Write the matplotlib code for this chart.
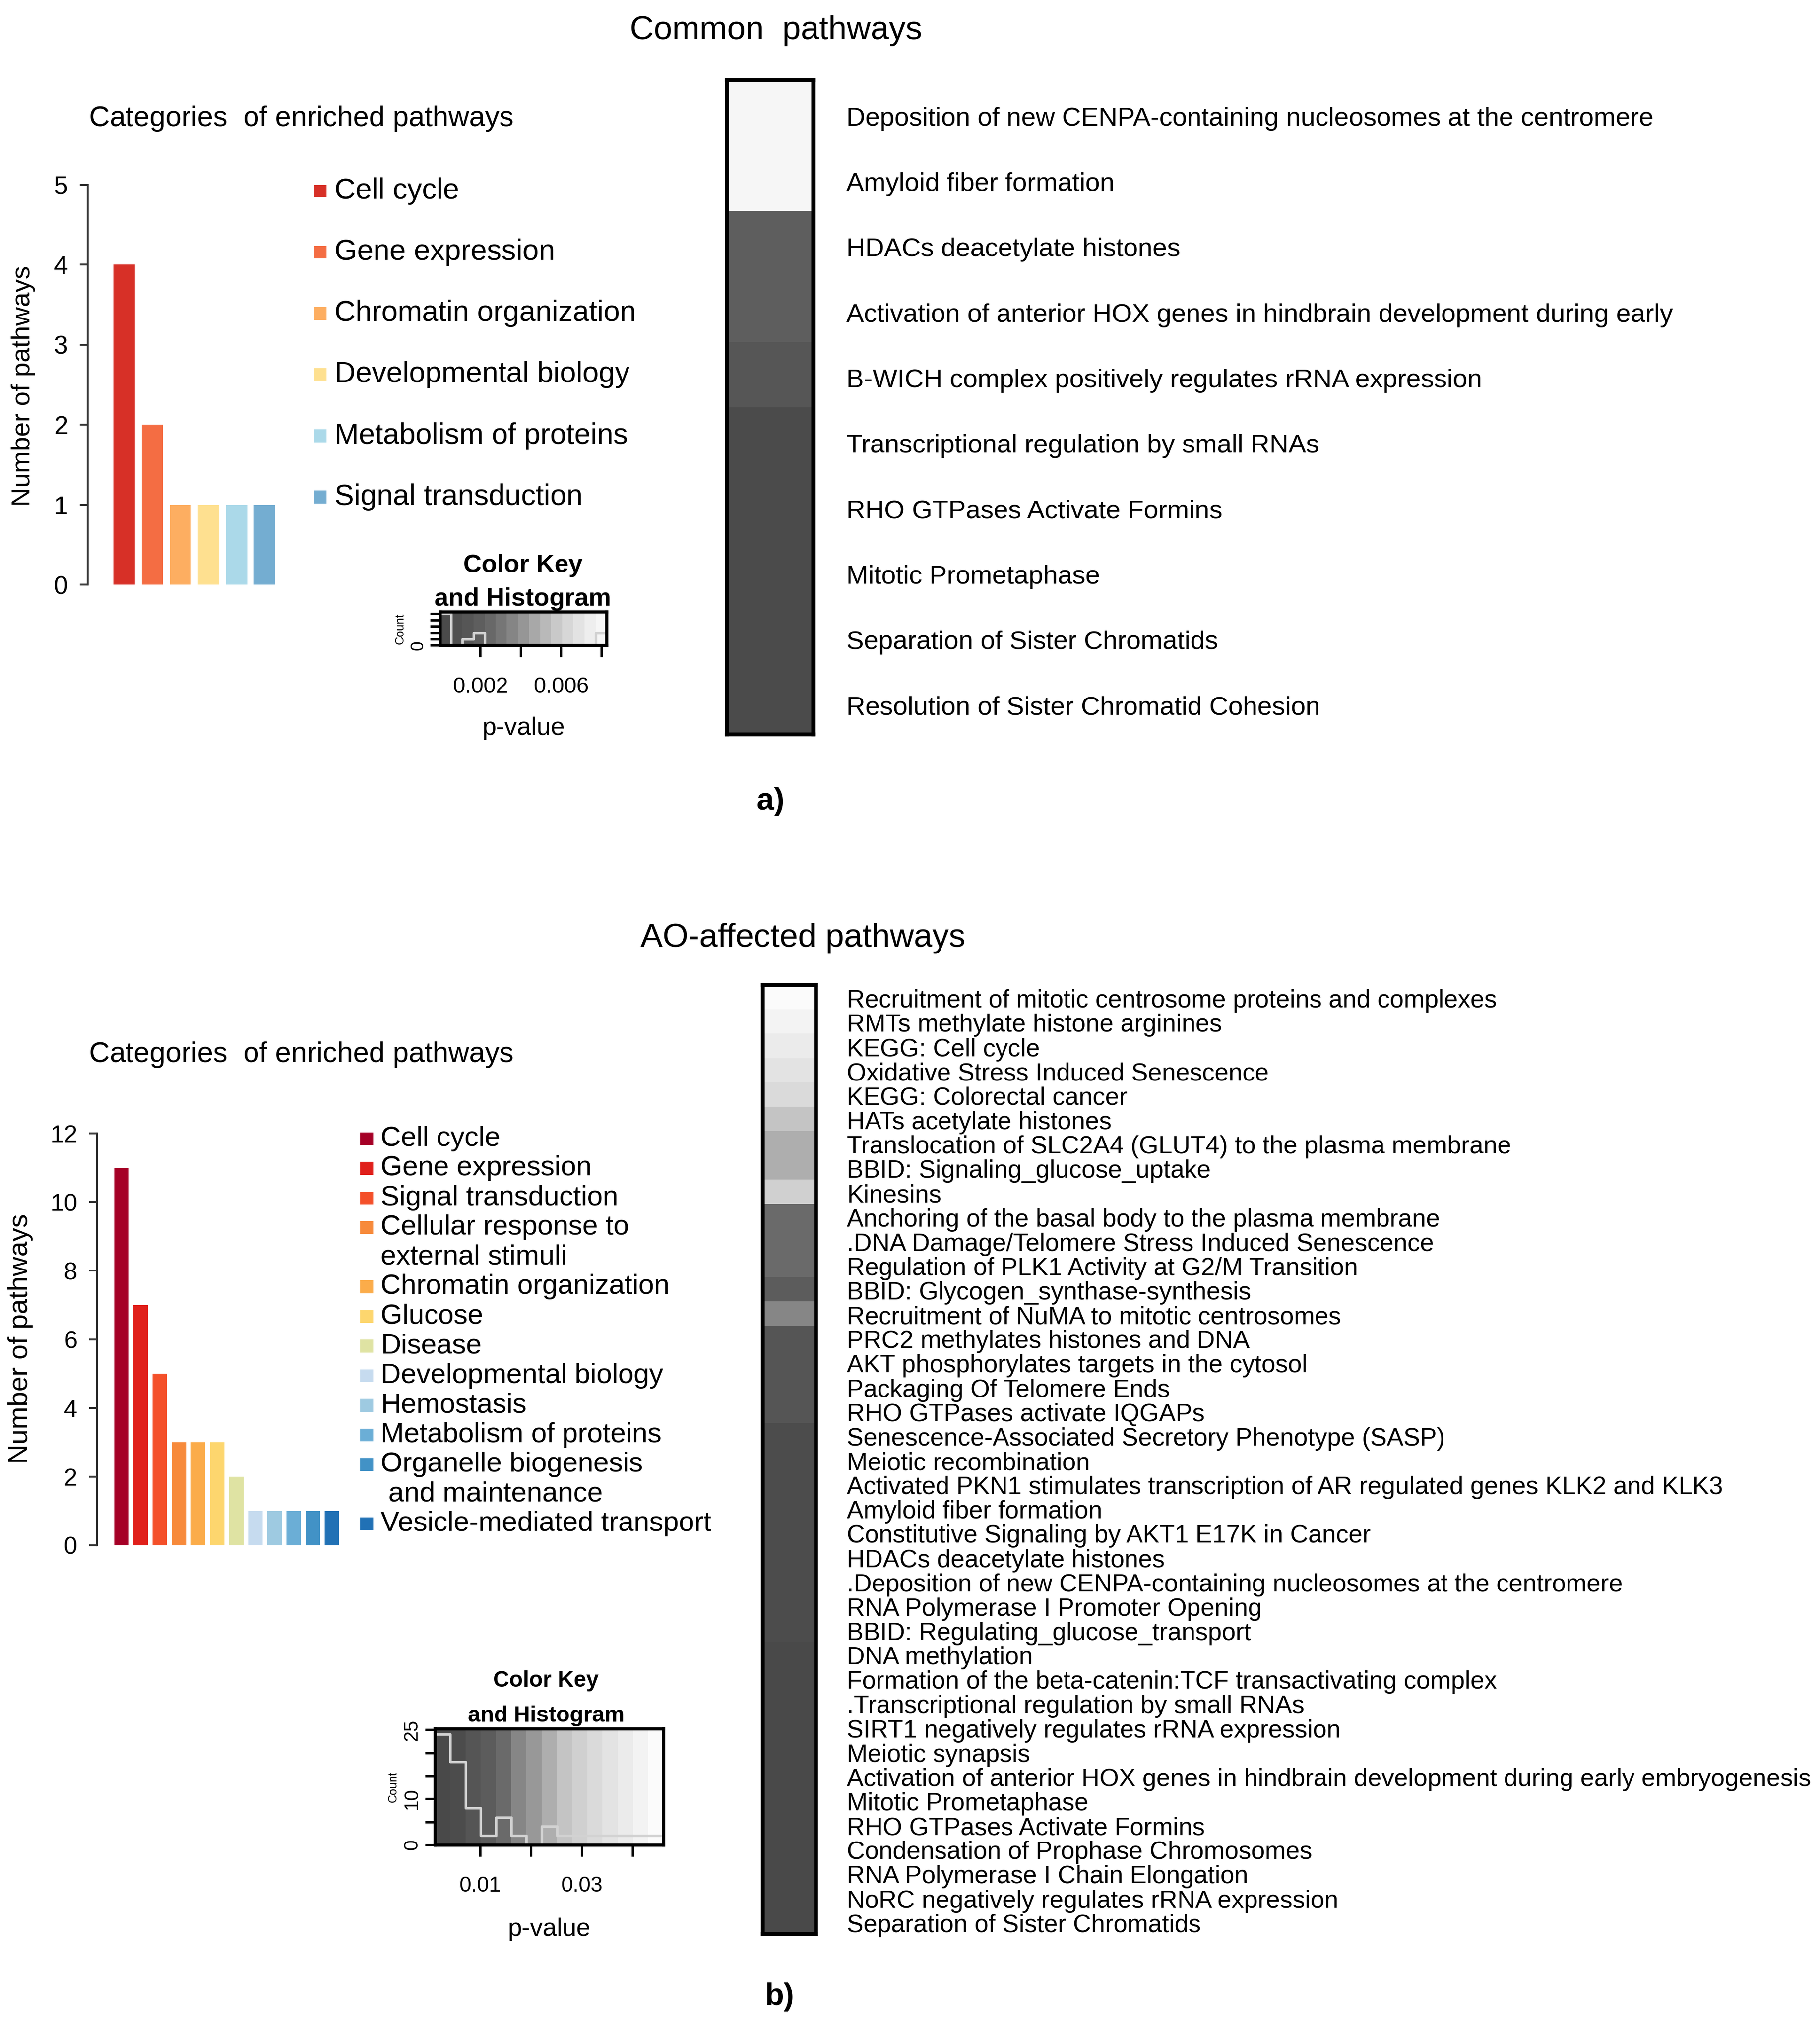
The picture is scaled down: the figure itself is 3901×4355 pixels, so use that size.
import numpy as np
import matplotlib
matplotlib.use("Agg")
import matplotlib.pyplot as plt
from matplotlib.colors import ListedColormap, BoundaryNorm
from matplotlib.patches import Rectangle
from matplotlib.ticker import MaxNLocator

plt.rcParams['font.family'] = ['Liberation Sans', 'DejaVu Sans']

# ---------------- a) common pathways ----------------
cat_a = ['Cell cycle', 'Gene expression', 'Chromatin organization',
         'Developmental biology', 'Metabolism of proteins', 'Signal transduction']
count_a = [4, 2, 1, 1, 1, 1]
color_a = ['#d73027', '#f46d43', '#fdae61', '#fee090', '#abd9e9', '#74add1']

path_a = ['Deposition of new CENPA-containing nucleosomes at the centromere',
          'Amyloid fiber formation',
          'HDACs deacetylate histones',
          'Activation of anterior HOX genes in hindbrain development during early',
          'B-WICH complex positively regulates rRNA expression',
          'Transcriptional regulation by small RNAs',
          'RHO GTPases Activate Formins',
          'Mitotic Prometaphase',
          'Separation of Sister Chromatids',
          'Resolution of Sister Chromatid Cohesion']
pval_a = [0.00826, 0.0080, 0.0020, 0.0018, 0.0013,
          0.0004, 0.0003, 0.00015, 0.00008, 0.00002]
gray_a = ['#4b4b4b', '#505050', '#565656', '#5e5e5e', '#686868', '#767676',
          '#858585', '#969696', '#a8a8a8', '#b9b9b9', '#c9c9c9', '#d7d7d7',
          '#e3e3e3', '#eeeeee', '#f6f6f6']
key_a_xticks = [0.002, 0.004, 0.006, 0.008]
key_a_xlabels = ['0.002', '', '0.006', '']
key_a_ylabels = ['0']

# ---------------- b) AO-affected pathways ----------------
cat_b = ['Cell cycle', 'Gene expression', 'Signal transduction',
         'Cellular response to\nexternal stimuli', 'Chromatin organization',
         'Glucose', 'Disease', 'Developmental biology', 'Hemostasis',
         'Metabolism of proteins', 'Organelle biogenesis\n and maintenance',
         'Vesicle-mediated transport']
count_b = [11, 7, 5, 3, 3, 3, 2, 1, 1, 1, 1, 1]
color_b = ['#a50026', '#e0201b', '#f4502a', '#f78a3b', '#fbac4a', '#fdd66e',
           '#dfe3a3', '#c6dbef', '#9ecae1', '#6baed6', '#4292c6', '#2171b5']

path_b = ['Recruitment of mitotic centrosome proteins and complexes',
          'RMTs methylate histone arginines',
          'KEGG: Cell cycle',
          'Oxidative Stress Induced Senescence',
          'KEGG: Colorectal cancer',
          'HATs acetylate histones',
          'Translocation of SLC2A4 (GLUT4) to the plasma membrane',
          'BBID: Signaling_glucose_uptake',
          'Kinesins',
          'Anchoring of the basal body to the plasma membrane',
          '.DNA Damage/Telomere Stress Induced Senescence',
          'Regulation of PLK1 Activity at G2/M Transition',
          'BBID: Glycogen_synthase-synthesis',
          'Recruitment of NuMA to mitotic centrosomes',
          'PRC2 methylates histones and DNA',
          'AKT phosphorylates targets in the cytosol',
          'Packaging Of Telomere Ends',
          'RHO GTPases activate IQGAPs',
          'Senescence-Associated Secretory Phenotype (SASP)',
          'Meiotic recombination',
          'Activated PKN1 stimulates transcription of AR regulated genes KLK2 and KLK3',
          'Amyloid fiber formation',
          'Constitutive Signaling by AKT1 E17K in Cancer',
          'HDACs deacetylate histones',
          '.Deposition of new CENPA-containing nucleosomes at the centromere',
          'RNA Polymerase I Promoter Opening',
          'BBID: Regulating_glucose_transport',
          'DNA methylation',
          'Formation of the beta-catenin:TCF transactivating complex',
          '.Transcriptional regulation by small RNAs',
          'SIRT1 negatively regulates rRNA expression',
          'Meiotic synapsis',
          'Activation of anterior HOX genes in hindbrain development during early embryogenesis',
          'Mitotic Prometaphase',
          'RHO GTPases Activate Formins',
          'Condensation of Prophase Chromosomes',
          'RNA Polymerase I Chain Elongation',
          'NoRC negatively regulates rRNA expression',
          'Separation of Sister Chromatids']
pval_b = [0.0460, 0.0415, 0.0385, 0.0355, 0.0325, 0.0265, 0.0235, 0.0240,
          0.0295, 0.0145, 0.0142, 0.0150, 0.0115, 0.0175, 0.0085, 0.0088,
          0.0090, 0.0095, 0.0070, 0.0066, 0.0063, 0.0060, 0.0057, 0.0054,
          0.0051, 0.0048, 0.0045, 0.0041, 0.0039, 0.0036, 0.0034, 0.0031,
          0.0029, 0.0026, 0.0024, 0.0021, 0.0019, 0.0016, 0.0012]
gray_b = ['#494949', '#4c4c4c', '#555555', '#5c5c5c', '#6a6a6a', '#868686',
          '#989898', '#aeaeae', '#c4c4c4', '#d0d0d0', '#dadada', '#e3e3e3',
          '#ebebeb', '#f3f3f3', '#fbfbfb']
key_b_xticks = [0.01, 0.02, 0.03, 0.04]
key_b_xlabels = ['0.01', '', '0.03', '']
key_b_ylabels = ['0', '10', '25']

# ---------------- figure helpers (positions in reference pixels / 2.767) ----------------
W, H = 1410.0, 1574.0
fig = plt.figure(figsize=(3901 / 300, 4355 / 300), dpi=300)


def rect(x0, y0, x1, y1):
    return [x0 / W, 1 - y1 / H, (x1 - x0) / W, (y1 - y0) / H]


def put(x, y, s, **kw):
    kw.setdefault('ha', 'left')
    kw.setdefault('va', 'center')
    fig.text(x / W, 1 - y / H, s, **kw)


def bar_panel(r, counts, colors, ymax, step, fs):
    ax = fig.add_axes(r)
    x = np.arange(len(counts))
    ax.bar(x, counts, width=0.76, color=colors)
    ax.set_xlim(-1.3, len(counts) - 0.4)
    ax.set_ylim(0, ymax)
    ax.set_yticks(np.arange(0, ymax + 1, step))
    for s in ['top', 'right', 'bottom']:
        ax.spines[s].set_visible(False)
    ax.spines['left'].set_color('#333333')
    ax.spines['left'].set_linewidth(1.0)
    ax.set_xticks([])
    ax.tick_params(axis='y', length=4, width=1, color='#333333',
                   labelsize=fs, pad=6)
    return ax


def legend(x, y0, dy, cats, colors, fs, sq):
    line = 0
    for c, col in zip(cats, colors):
        y = y0 + line * dy
        fig.add_artist(Rectangle(((x) / W, 1 - (y + sq / 2) / H), sq / W, sq / H,
                                 transform=fig.transFigure, color=col, lw=0))
        for j, part in enumerate(c.split('\n')):
            put(x + sq + 6, y + j * dy, part, fontsize=fs)
        line += len(c.split('\n'))


def heat_panel(r, pvals, names, grays, fs, pad):
    ax = fig.add_axes(r)
    mat = np.column_stack([pvals, pvals])
    breaks = np.linspace(mat.min(), mat.max(), len(grays) + 1)
    cmap = ListedColormap(grays)
    norm = BoundaryNorm(breaks, cmap.N, clip=True)
    ax.pcolormesh(mat, cmap=cmap, norm=norm)
    ax.set_xlim(0, 2)
    ax.set_ylim(len(pvals), 0)
    ax.set_xticks([])
    ax.yaxis.tick_right()
    ax.set_yticks(np.arange(len(pvals)) + 0.55)
    ax.set_yticklabels(names, fontsize=fs)
    ax.tick_params(axis='y', length=0, pad=pad)
    for s in ax.spines.values():
        s.set_linewidth(2.0)
    return mat, breaks, cmap, norm


def key_panel(r, mat, breaks, cmap, norm, xticks, xlabels, ylabels, fs, cfs):
    ax = fig.add_axes(r)
    centers = (breaks[:-1] + breaks[1:]) / 2
    ax.pcolormesh(breaks, [0, 1], centers[None, :], cmap=cmap, norm=norm)
    counts, _ = np.histogram(mat.ravel(), bins=breaks)
    hy = np.append(counts, counts[-1])
    ax.step(breaks, hy / hy.max() * 0.95, where='post', color='#d2d2d2', lw=1.3)
    ax.set_xlim(breaks[0], breaks[-1])
    ax.set_ylim(0, 1)
    yt = MaxNLocator(nbins=5, steps=[1, 2, 5, 10]).tick_values(0, hy.max())
    ax.set_yticks(yt / hy.max() * 0.95)
    ax.set_yticklabels([('%d' % v) if ('%d' % v) in ylabels else '' for v in yt],
                       rotation=90, va='center', fontsize=cfs)
    ax.set_xticks(xticks)
    ax.set_xticklabels(xlabels, fontsize=fs)
    ax.tick_params(axis='x', length=6, width=1.2, pad=10)
    ax.tick_params(axis='y', length=5, width=1.2, pad=2)
    ax.set_ylabel('Count', fontsize=6, labelpad=2)
    for s in ax.spines.values():
        s.set_linewidth(1.6)
    return ax


# ---------------- panel a ----------------
put(601, 24, 'Common  pathways', fontsize=17, ha='center')
put(69, 92, 'Categories  of enriched pathways', fontsize=14.7)
bar_panel(rect(68, 143, 218, 453), count_a, color_a, 5, 1, 13.5)
put(18, 299, 'Number of pathways', fontsize=13.5, rotation=90, ha='center')
legend(243, 148, 47.4, cat_a, color_a, 15, 10)

mat_a, br_a, cm_a, nm_a = heat_panel(rect(563, 62, 630, 569), pval_a, path_a,
                                     gray_a, 13.5, 17)
put(405, 438, 'Color Key', fontsize=13, weight='bold', ha='center')
put(405, 464, 'and Histogram', fontsize=13, weight='bold', ha='center')
ka = key_panel(rect(341, 474, 470, 500), mat_a, br_a, cm_a, nm_a,
               key_a_xticks, key_a_xlabels, key_a_ylabels, 11.4, 9)
ka.set_xlabel('p-value', fontsize=13, labelpad=10)
put(597, 621, 'a)', fontsize=16, weight='bold', ha='center')

# ---------------- panel b ----------------
put(622, 727, 'AO-affected pathways', fontsize=17, ha='center')
put(69, 817, 'Categories  of enriched pathways', fontsize=14.7)
bar_panel(rect(75, 878, 266, 1197), count_b, color_b, 12, 2, 12.5)
put(16, 1037, 'Number of pathways', fontsize=14, rotation=90, ha='center')
legend(279, 882, 22.95, cat_b, color_b, 14.4, 10)

mat_b, br_b, cm_b, nm_b = heat_panel(rect(591, 763, 632, 1498), pval_b, path_b,
                                     gray_b, 12.85, 16)
put(423, 1302, 'Color Key', fontsize=11.5, weight='bold', ha='center')
put(423, 1329, 'and Histogram', fontsize=11.5, weight='bold', ha='center')
kb = key_panel(rect(337, 1339, 514, 1429), mat_b, br_b, cm_b, nm_b,
               key_b_xticks, key_b_xlabels, key_b_ylabels, 11, 10)
kb.set_xlabel('p-value', fontsize=13, labelpad=11)
put(604, 1547, 'b)', fontsize=16, weight='bold', ha='center')

fig.savefig('out.png', dpi=300, facecolor='white')
